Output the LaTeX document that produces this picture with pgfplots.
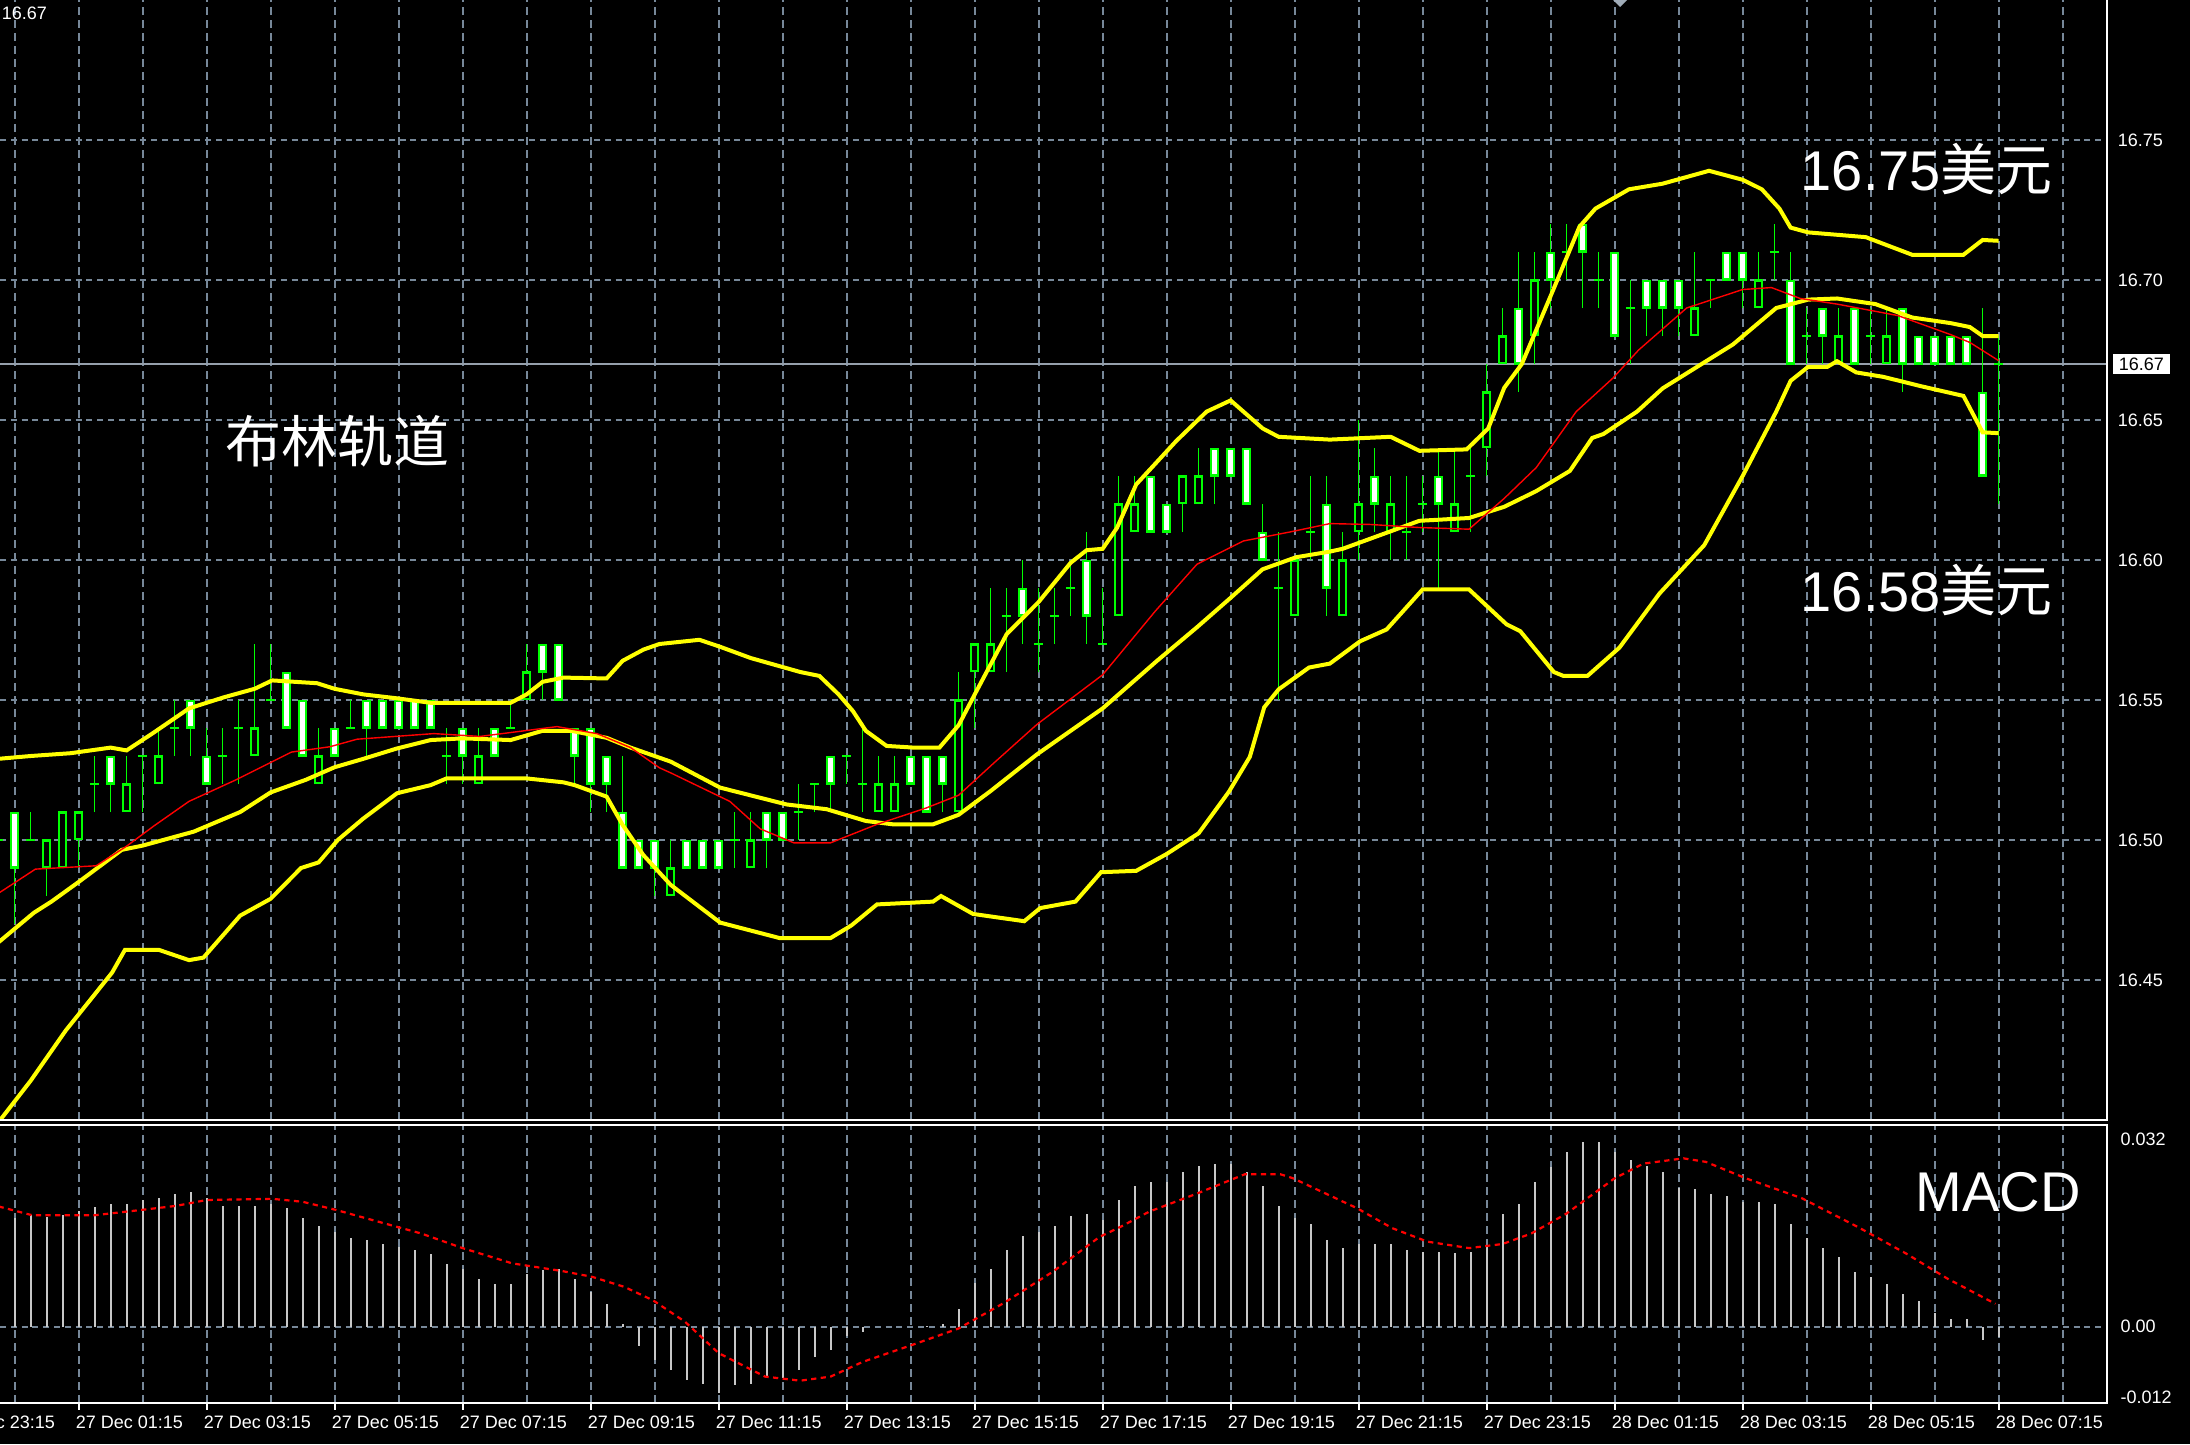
\documentclass[border=0pt]{standalone}
\usepackage{pgfplots}
\pgfplotsset{compat=1.18}
\usepackage{pgfplotstable}
\usepackage{fontspec}
\setmainfont{Liberation Sans}
\newfontfamily\cjk{Noto Sans CJK SC}
\definecolor{mtgreen}{RGB}{0,255,0}
\definecolor{mtyellow}{RGB}{255,255,0}
\definecolor{mtred}{RGB}{255,0,0}
\definecolor{mtgrid}{RGB}{119,136,153}
\definecolor{mtask}{RGB}{150,160,172}
\definecolor{mtsilver}{RGB}{200,200,200}

\pgfplotstableread{
i O H L C
-5 16.50 16.51 16.50 16.50
-4 16.51 16.51 16.47 16.49
-3 16.50 16.51 16.50 16.50
-2 16.49 16.50 16.48 16.50
-1 16.49 16.51 16.49 16.51
0 16.50 16.51 16.49 16.51
1 16.52 16.53 16.51 16.52
2 16.53 16.53 16.51 16.52
3 16.51 16.53 16.51 16.52
4 16.53 16.53 16.51 16.53
5 16.52 16.54 16.52 16.53
6 16.54 16.55 16.53 16.54
7 16.55 16.55 16.53 16.54
8 16.53 16.54 16.52 16.52
9 16.53 16.54 16.52 16.53
10 16.54 16.55 16.52 16.54
11 16.53 16.57 16.53 16.54
12 16.55 16.57 16.55 16.55
13 16.56 16.56 16.54 16.54
14 16.55 16.55 16.53 16.53
15 16.52 16.54 16.52 16.53
16 16.54 16.54 16.53 16.53
17 16.54 16.55 16.54 16.54
18 16.55 16.55 16.53 16.54
19 16.55 16.55 16.54 16.54
20 16.55 16.55 16.54 16.54
21 16.55 16.55 16.54 16.54
22 16.55 16.55 16.54 16.54
23 16.53 16.54 16.52 16.53
24 16.54 16.54 16.52 16.53
25 16.52 16.54 16.52 16.53
26 16.54 16.54 16.53 16.53
27 16.54 16.55 16.54 16.54
28 16.55 16.57 16.55 16.56
29 16.57 16.57 16.55 16.56
30 16.57 16.57 16.55 16.55
31 16.54 16.54 16.52 16.53
32 16.54 16.54 16.51 16.52
33 16.53 16.53 16.51 16.52
34 16.51 16.53 16.49 16.49
35 16.50 16.50 16.49 16.49
36 16.50 16.50 16.48 16.49
37 16.48 16.50 16.48 16.49
38 16.50 16.50 16.49 16.49
39 16.50 16.50 16.49 16.49
40 16.50 16.50 16.49 16.49
41 16.50 16.51 16.49 16.50
42 16.49 16.51 16.49 16.50
43 16.51 16.51 16.49 16.50
44 16.51 16.51 16.50 16.50
45 16.51 16.52 16.50 16.51
46 16.52 16.52 16.51 16.52
47 16.53 16.53 16.51 16.52
48 16.53 16.53 16.52 16.53
49 16.52 16.54 16.51 16.52
50 16.51 16.53 16.51 16.52
51 16.51 16.53 16.51 16.52
52 16.53 16.53 16.52 16.52
53 16.53 16.53 16.51 16.51
54 16.53 16.53 16.51 16.52
55 16.51 16.56 16.51 16.55
56 16.56 16.57 16.54 16.57
57 16.56 16.59 16.56 16.57
58 16.58 16.59 16.56 16.58
59 16.59 16.60 16.57 16.58
60 16.57 16.59 16.56 16.57
61 16.58 16.59 16.57 16.58
62 16.59 16.60 16.58 16.59
63 16.60 16.61 16.57 16.58
64 16.57 16.59 16.57 16.57
65 16.58 16.63 16.58 16.62
66 16.61 16.63 16.61 16.62
67 16.63 16.63 16.61 16.61
68 16.62 16.62 16.61 16.61
69 16.62 16.63 16.61 16.63
70 16.62 16.64 16.62 16.63
71 16.64 16.64 16.62 16.63
72 16.64 16.64 16.63 16.63
73 16.64 16.64 16.62 16.62
74 16.61 16.62 16.60 16.60
75 16.59 16.61 16.55 16.59
76 16.58 16.60 16.58 16.60
77 16.61 16.63 16.60 16.61
78 16.62 16.63 16.58 16.59
79 16.58 16.61 16.58 16.60
80 16.61 16.65 16.60 16.62
81 16.63 16.64 16.61 16.62
82 16.61 16.63 16.60 16.62
83 16.61 16.63 16.60 16.61
84 16.62 16.63 16.61 16.62
85 16.63 16.64 16.59 16.62
86 16.61 16.64 16.61 16.62
87 16.63 16.64 16.61 16.63
88 16.64 16.67 16.63 16.66
89 16.67 16.69 16.67 16.68
90 16.69 16.71 16.66 16.67
91 16.68 16.71 16.67 16.70
92 16.71 16.72 16.69 16.70
93 16.71 16.72 16.70 16.71
94 16.72 16.72 16.69 16.71
95 16.70 16.71 16.69 16.70
96 16.71 16.71 16.68 16.68
97 16.69 16.70 16.67 16.69
98 16.70 16.70 16.68 16.69
99 16.70 16.70 16.68 16.69
100 16.70 16.70 16.68 16.69
101 16.68 16.71 16.68 16.69
102 16.70 16.70 16.69 16.70
103 16.71 16.71 16.70 16.70
104 16.71 16.71 16.69 16.70
105 16.69 16.71 16.69 16.70
106 16.71 16.72 16.70 16.71
107 16.70 16.71 16.67 16.67
108 16.68 16.69 16.67 16.68
109 16.69 16.69 16.67 16.68
110 16.67 16.69 16.67 16.68
111 16.69 16.69 16.67 16.67
112 16.68 16.69 16.67 16.68
113 16.67 16.69 16.67 16.68
114 16.69 16.69 16.66 16.67
115 16.68 16.68 16.67 16.67
116 16.68 16.68 16.67 16.67
117 16.68 16.68 16.67 16.67
118 16.68 16.68 16.67 16.67
119 16.66 16.69 16.63 16.63
120 16.67 16.68 16.62 16.67
}\candles

\pgfplotstableread{
x y
-5 16.529
-3 16.530
-0.5 16.531
2 16.533
3 16.532
4.6 16.538
6.9 16.547
9.1 16.551
11 16.554
12.1 16.557
14.9 16.556
16 16.554
17.8 16.552
19.9 16.5506
22 16.549
27 16.549
28 16.552
29 16.5565
30.3 16.558
33 16.5577
34 16.564
35.3 16.568
36.3 16.570
38.8 16.5715
40.1 16.569
42 16.565
45.1 16.560
46.3 16.5586
47.5 16.552
48.4 16.546
49.2 16.539
50.5 16.5336
52.2 16.533
53.8 16.533
55 16.541
56.1 16.553
57 16.5627
58 16.5735
60 16.585
62 16.599
63 16.6035
64 16.604
64.9 16.6115
66.1 16.627
68.6 16.6425
70.5 16.653
72 16.657
74 16.647
75 16.644
78.2 16.643
82 16.644
83.8 16.639
86.75 16.6395
88.1 16.647
89.1 16.6615
90.2 16.670
92.2 16.697
93.8 16.719
94.8 16.7255
96.9 16.7324
99 16.7344
101.9 16.739
104 16.7358
105.2 16.7324
106.3 16.7255
107 16.7187
108.1 16.717
111.7 16.7153
114.6 16.709
117.8 16.709
119 16.7143
120 16.714
}\bbupper

\pgfplotstableread{
x y
-5 16.4635
-2.8 16.474
-1.7 16.478
0 16.485
2.7 16.4965
4 16.498
7.2 16.503
10.1 16.510
12 16.517
14.2 16.5215
16 16.526
17.8 16.529
19.9 16.5327
22 16.5357
24 16.5363
27 16.5357
29 16.539
30.8 16.539
33 16.5365
34.5 16.533
36.3 16.5294
37 16.528
40.1 16.5187
44.25 16.5127
46.75 16.511
49.2 16.5068
50.9 16.5056
53.4 16.5056
55 16.509
57 16.5175
59.9 16.5306
64 16.547
67.4 16.564
69.9 16.576
72 16.5865
74 16.5967
76.1 16.601
78.2 16.603
79 16.604
83.8 16.614
86.9 16.615
89.1 16.619
91.1 16.6246
93.2 16.6318
94.6 16.6436
95.3 16.645
97.4 16.653
99 16.6613
103.4 16.677
106.1 16.690
108.1 16.693
109.9 16.6934
112.3 16.6914
114.6 16.6866
117 16.6846
118.2 16.6832
119 16.680
120 16.680
}\bbmid

\pgfplotstableread{
x y
-5.2 16.396
-4.9 16.400
-3 16.414
-0.8 16.432
0.8 16.4434
2.1 16.4527
2.9 16.4608
5 16.4608
6.9 16.4571
7.8 16.458
10.1 16.473
12 16.479
13.9 16.490
15 16.492
16.2 16.500
17.8 16.5077
19.9 16.5167
22 16.5196
23 16.522
28 16.522
30.3 16.5206
31 16.5196
33 16.5155
34 16.5054
35.3 16.4946
37 16.484
40.1 16.4705
43.8 16.465
47 16.465
48.3 16.4695
49.9 16.477
53.4 16.478
53.9 16.480
55.9 16.4736
59.1 16.471
60.1 16.4757
62.3 16.478
63.9 16.4885
66.1 16.489
68 16.495
70 16.5024
71.9 16.5173
73.2 16.5297
74.1 16.5474
75 16.5538
76.9 16.5616
78.2 16.563
80.1 16.571
81.75 16.5752
84 16.5895
86.9 16.5895
89.25 16.577
90.1 16.5746
92.2 16.560
92.8 16.5586
94.3 16.5586
96.3 16.5687
98.8 16.588
101.6 16.6053
104 16.630
106.1 16.653
107 16.664
108.1 16.669
109.3 16.669
109.9 16.671
111.1 16.667
112.8 16.6654
115.2 16.662
117.8 16.6586
119 16.6456
120 16.6453
}\bblower

\pgfplotstableread{
x y
-5 16.481
-2.7 16.4896
1.1 16.4908
3 16.4978
4.7 16.505
6.9 16.5138
9.8 16.5214
13.3 16.5314
15.7 16.5333
17.4 16.536
22.2 16.538
25.1 16.537
29.9 16.5405
32.4 16.538
34.5 16.533
36.3 16.5258
37 16.524
40.7 16.5138
42.6 16.504
44.7 16.499
47 16.499
49.9 16.5056
53 16.5115
55 16.516
57.3 16.528
59.9 16.5413
64 16.559
67.3 16.5818
69.9 16.5985
72.8 16.6068
75.7 16.610
78.2 16.613
80.7 16.6127
83.8 16.6116
86.9 16.611
89.1 16.622
91.1 16.633
93.6 16.653
95.9 16.665
97.5 16.675
100.5 16.690
104 16.6966
105.8 16.6973
107.6 16.6934
109.9 16.6914
113.7 16.6873
117 16.6805
118.2 16.6777
120 16.6712
}\mared

\pgfplotstableread{
i h
-5 0.0195
-4 0.0185
-3 0.0190
-2 0.01875
-1 0.0191
0 0.0197
1 0.02045
2 0.0209
3 0.0209
4 0.0216
5 0.0219
6 0.0226
7 0.0229
8 0.0219
9 0.0206
10 0.0206
11 0.0206
12 0.0209
13 0.0202
14 0.0185
15 0.0172
16 0.0161
17 0.0151
18 0.0148
19 0.0141
20 0.0136
21 0.0131
22 0.0124
23 0.0107
24 0.0099
25 0.0082
26 0.0073
27 0.0073
28 0.0090
29 0.0097
30 0.0099
31 0.0082
32 0.0059
33 0.0039
34 0.0004
35 -0.0033
36 -0.0057
37 -0.0073
38 -0.0090
39 -0.0097
40 -0.01125
41 -0.0099
42 -0.0097
43 -0.0088
44 -0.0088
45 -0.0074
46 -0.0052
47 -0.0039
48 -0.0015
49 -0.00085
50 0
51 0
52 0
53 0.0001
54 0.0004
55 0.0031
56 0.0074
57 0.0099
58 0.0131
59 0.0155
60 0.0162
61 0.0172
62 0.0189
63 0.0192
64 0.0182
65 0.0216
66 0.0240
67 0.0247
68 0.0247
69 0.0264
70 0.0274
71 0.0277
72 0.0277
73 0.0264
74 0.0240
75 0.0206
76 0.0185
77 0.0175
78 0.0148
79 0.0134
80 0.0141
81 0.0141
82 0.0141
83 0.0131
84 0.0128
85 0.0128
86 0.0125
87 0.0128
88 0.0136
89 0.0192
90 0.0209
91 0.0247
92 0.0273
93 0.0298
94 0.0315
95 0.0315
96 0.0298
97 0.0284
98 0.0274
99 0.0264
100 0.0236
101 0.0234
102 0.0226
103 0.0222
104 0.0213
105 0.0213
106 0.0209
107 0.0175
108 0.0152
109 0.0135
110 0.0118
111 0.0094
112 0.0084
113 0.0073
114 0.0056
115 0.0043
116 0.0023
117 0.0014
118 0.0014
119 -0.0022
120 -0.0018
}\macdh

\pgfplotstableread{
x y
-5 0.0205
-2.9 0.0190
-1 0.0190
1 0.0190
3.9 0.0199
6.1 0.0206
8 0.0216
12.1 0.0218
14 0.0213
16.1 0.0199
19 0.0177
21.4 0.0159
24 0.0134
27.1 0.0108
30.2 0.0095
32.1 0.0085
34.1 0.0068
35.9 0.0045
37.9 0.00085
40 -0.0045
42.9 -0.0085
45.1 -0.0092
47 -0.0085
49 -0.0060
52.1 -0.0031
55 -0.0003
57.8 0.0040
60.9 0.0094
63.8 0.0153
65.1 0.0170
66.9 0.0196
69.9 0.0227
72.9 0.0260
75.1 0.0260
75.9 0.0253
79.9 0.0202
82.1 0.0168
84.3 0.0145
86.9 0.0134
89 0.0141
90.8 0.0159
93 0.0193
96 0.0253
97.8 0.0278
100.3 0.0287
101.7 0.0281
104.2 0.0253
107.7 0.0219
111.2 0.0170
114.2 0.0125
116.8 0.0082
119.8 0.0039
}\macds

\pgfplotsset{
  mtbase/.style={
    scale only axis, width=526.75pt,
    xmin=-4.9125, xmax=126.775,
    axis line style={draw=none},
    no markers,
    tick label style={font=\fontsize{4.5}{5}\selectfont, text=white},
    x grid style={mtgrid, line width=0.5pt, dash pattern=on 2pt off 1.25pt},
    y grid style={mtgrid, line width=0.5pt, dash pattern=on 1.5pt off 1.2pt},
    scaled y ticks=false,
    major y tick style={draw=none},
  },
}

\begin{document}
\begin{tikzpicture}[x=1pt,y=1pt]
\fill[black] (0pt,0pt) rectangle (547.5pt,-361pt);
\begin{axis}[mtbase, name=main, at={(0pt,0pt)}, anchor=north west, height=280pt,
  ymin=16.40, ymax=16.80,
  xtick={-4,0,...,124}, xticklabels={}, major x tick style={draw=none}, xmajorgrids,
  ytick={16.45,16.50,16.55,16.60,16.65,16.70,16.75},
  yticklabels={16.45,16.50,16.55,16.60,16.65,16.70,16.75},
  ymajorgrids,
  yticklabel pos=right,
  yticklabel style={anchor=west, inner sep=0pt, xshift=2.5pt},
  extra y ticks={16.67}, extra y tick labels={16.67},
  extra y tick style={grid=none, yticklabel style={fill=white, text=black, inner xsep=1.5pt, inner ysep=1pt, xshift=-1.25pt}},
]
\addplot [mtask, line width=0.5pt] coordinates {(-6,16.67) (128,16.67)};
% wicks
\addplot [mtgreen, line width=0.4pt, quiver={u=0, v={\thisrow{H}-\thisrow{L}}}] table [x=i, y=L] {\candles};
% close ticks (doji)
\addplot [mtgreen, line width=0.5pt, quiver={u=0.6, v=0}] table [x expr={\thisrow{i}-0.3}, y=C] {\candles};
% body outlines
\addplot [mtgreen, line width=2.4pt, quiver={u=0, v={abs(\thisrow{C}-\thisrow{O})}}] table [x=i, y expr={min(\thisrow{O},\thisrow{C})}] {\candles};
% bear bodies (white)
\addplot [white, line width=1.4pt, quiver={u=0, v={(\thisrow{O}-\thisrow{C}>0.005)*(abs(\thisrow{C}-\thisrow{O})-0.00143)}}] table [x=i, y expr={min(\thisrow{O},\thisrow{C})+0.000715}] {\candles};
% bull bodies (black)
\addplot [black, line width=1.4pt, quiver={u=0, v={(\thisrow{C}-\thisrow{O}>0.005)*(abs(\thisrow{C}-\thisrow{O})-0.00143)}}] table [x=i, y expr={min(\thisrow{O},\thisrow{C})+0.000715}] {\candles};
% Bollinger bands
\addplot [mtyellow, line width=1pt] table {\bbupper};
\addplot [mtyellow, line width=1pt] table {\bbmid};
\addplot [mtyellow, line width=1pt] table {\bblower};
\addplot [mtred, line width=0.35pt] table {\mared};
\end{axis}

\begin{axis}[mtbase, name=macd, at={(0pt,-281.25pt)}, anchor=north west, height=69.43pt,
  ymin=-0.01296, ymax=0.03438,
  xtick={0,8,...,120},
  xticklabels={27 Dec 01:15,27 Dec 03:15,27 Dec 05:15,27 Dec 07:15,27 Dec 09:15,27 Dec 11:15,27 Dec 13:15,27 Dec 15:15,27 Dec 17:15,27 Dec 19:15,27 Dec 21:15,27 Dec 23:15,28 Dec 01:15,28 Dec 03:15,28 Dec 05:15,28 Dec 07:15},
  minor xtick={-4,4,...,124},
  xmajorgrids, xminorgrids,
  xtick pos=left, tick align=outside, major tick length=1.75pt, minor tick length=0pt,
  major x tick style={white, line width=0.5pt},
  xticklabel style={anchor=north west, inner sep=0pt, xshift=-0.9pt, yshift=-1.3pt},
  ytick={0}, yticklabels={0.00}, ymajorgrids,
  yticklabel pos=right, yticklabel style={anchor=west, inner sep=0pt, xshift=1.45pt},
  extra y ticks={-0.012,0.032}, extra y tick labels={-0.012,0.032}, extra y tick style={grid=none},
]
\addplot [mtsilver, line width=0.45pt, quiver={u=0, v=\thisrow{h}}] table [x=i, y expr=0] {\macdh};
\addplot [mtred, line width=0.55pt, dash pattern=on 1.3pt off 1.1pt] table {\macds};
\end{axis}

\draw[white, line width=0.5pt] (main.south west) -- (main.south east) -- (main.north east);
\draw[white, line width=0.5pt] (macd.north west) -- (macd.north east) -- (macd.south east) -- (macd.south west);

\node[anchor=north west, inner sep=0pt, text=white, font=\fontsize{4.5}{5}\selectfont] at (-13.25pt,-353.75pt) {26 Dec 23:15};
\node[anchor=base west, inner sep=0pt, text=white, font=\fontsize{4.5}{5}\selectfont] at (0.25pt,-5pt) {16.67};
\fill[mtgrid!70!white] (403.25pt,0pt) -- (406.75pt,0pt) -- (405pt,-1.75pt) -- cycle;

\node[anchor=base west, inner sep=0pt, text=white, font=\fontsize{14}{16}\selectfont] at (450pt,-47.6pt) {16.75{\cjk 美元}};
\node[anchor=base west, inner sep=0pt, text=white, font=\fontsize{14}{16}\selectfont] at (450pt,-152.75pt) {16.58{\cjk 美元}};
\node[anchor=base west, inner sep=0pt, text=white, font=\fontsize{14}{16}\selectfont] at (56.25pt,-115.5pt) {\cjk 布林轨道};
\node[anchor=base west, inner sep=0pt, text=white, font=\fontsize{14}{16}\selectfont] at (478.75pt,-302.9pt) {MACD};

\pgfresetboundingbox
\useasboundingbox (0pt,0pt) rectangle (547.5pt,-361pt);
\end{tikzpicture}
\end{document}
